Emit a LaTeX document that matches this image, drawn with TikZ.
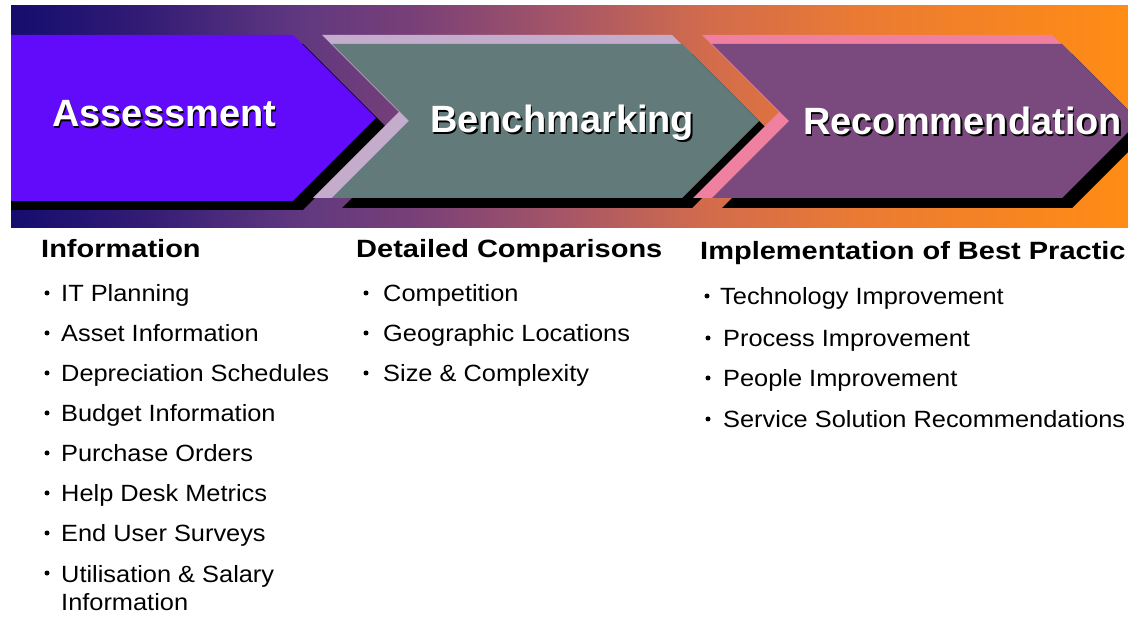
\documentclass[tikz,border=0pt]{standalone}
\usepackage{fontspec}
\setmainfont{Liberation Sans}
\newfontfamily\titlefont{Liberation Sans}
\newfontfamily\headfont{Liberation Sans}[FakeStretch=1.16]
\newfontfamily\itemfont{Liberation Sans}[FakeStretch=1.08]

\definecolor{assessViolet}{RGB}{98,10,250}
\definecolor{benchBody}{RGB}{98,122,122}
\definecolor{benchLight}{RGB}{196,172,204}
\definecolor{recomBody}{RGB}{122,74,126}
\definecolor{recomLight}{RGB}{240,128,160}

\pgfdeclarehorizontalshading{banner}{100bp}{%
    rgb(0bp)=(0.08,0.05,0.43); rgb(25bp)=(0.08,0.05,0.43);
    rgb(31bp)=(0.2,0.11,0.46); rgb(38bp)=(0.38,0.22,0.5);
    rgb(43bp)=(0.47,0.25,0.47); rgb(50bp)=(0.66,0.34,0.4);
    rgb(56bp)=(0.82,0.42,0.3); rgb(63bp)=(0.92,0.48,0.2);
    rgb(75bp)=(1,0.55,0.08); rgb(100bp)=(1,0.55,0.08)}

\begin{document}
\begin{tikzpicture}[x=1pt, y=-1pt,
    title/.style={font=\titlefont\bfseries\fontsize{38}{40}\selectfont, text=white, inner sep=0pt, anchor=base west},
    titleshadow/.style={title, text=black},
    heading/.style={font=\headfont\bfseries\fontsize{25}{28}\selectfont, inner sep=0pt, anchor=base west},
    item/.style={font=\itemfont\fontsize{23.5}{29}\selectfont, inner sep=0pt, anchor=base west},
    bullet/.style={circle, fill=black, inner sep=0pt, minimum size=5pt}]

    \def\drawChevron#1#2{
        \fill [black] (10,10) -- (360,10) -- (437,87) -- (360,164) -- (10,164) -- (87,87) -- cycle;
        \fill [#1] (-10,-9) -- (340,-9) -- (417,68) -- (340,154) -- (-19,154) -- (67,68) -- cycle;
        \fill [#2] (0,0) -- (350,0) -- (427,77) -- (350,154) -- (0,154) -- (77,77) -- cycle;
    }

    \useasboundingbox (0,0) rectangle (1128,617);
    \clip (0,0) rectangle (1128,617);

    % Banner
    \shade [shading=banner] (11,6) rectangle (1128,228);

    % Assessment
    \fill [black] (11,44) -- (303,44) -- (386,127) -- (303,210) -- (11,210) -- cycle;
    \fill [assessViolet] (11,35) -- (293,35) -- (376,118) -- (293,201) -- (11,201) -- cycle;
    \node [titleshadow] (assessShadow) at (53.5,128.5) {Assessment};
    \node [title] (assess) at (52,127) {Assessment};

    % Benchmarking
    \begin{scope}[shift={(332,44)}]
        \drawChevron{benchLight}{benchBody}
    \end{scope}
    \node [titleshadow] (benchShadow) at (431.5,134.5) {Benchmarking};
    \node [title] (bench) at (430,133) {Benchmarking};

    % Recommendation
    \begin{scope}[shift={(712,44)}]
        \drawChevron{recomLight}{recomBody}
    \end{scope}
    \node [titleshadow] (recomShadow) at (804.5,136.5) {Recommendation};
    \node [title] (recom) at (803,135) {Recommendation};

    % Information list
    \node [heading] (infoHead) at (41,258) {Information};
    \foreach \n/\y/\t in {1/302/IT Planning, 2/342/Asset Information,
        3/382/Depreciation Schedules, 4/422/Budget Information,
        5/462/Purchase Orders, 6/502/Help Desk Metrics,
        7/542/End User Surveys, 8/582/Utilisation \& Salary}{
        \node [bullet] (infoDot\n) at (47,\y-9) {};
        \node [item] (info\n) at (61,\y) {\t};
    }
    \node [item] (info9) at (61,610) {Information};

    % Comparisons list
    \node [heading] (compHead) at (356,258) {Detailed Comparisons};
    \foreach \n/\y/\t in {1/302/Competition, 2/342/Geographic Locations,
        3/382/Size \& Complexity}{
        \node [bullet] (compDot\n) at (366,\y-9) {};
        \node [item] (comp\n) at (383,\y) {\t};
    }

    % Best practice list
    \node [heading] (bestHead) at (700,260) {Implementation of Best Practic};
    \node [bullet] (bestDot1) at (707,296) {};
    \node [item] (best1) at (720,305) {Technology Improvement};
    \foreach \n/\y/\t in {2/347/Process Improvement, 3/387/People Improvement,
        4/428/Service Solution Recommendations}{
        \node [bullet] (bestDot\n) at (708,\y-9) {};
        \node [item] (best\n) at (723,\y) {\t};
    }
\end{tikzpicture}
\end{document}
